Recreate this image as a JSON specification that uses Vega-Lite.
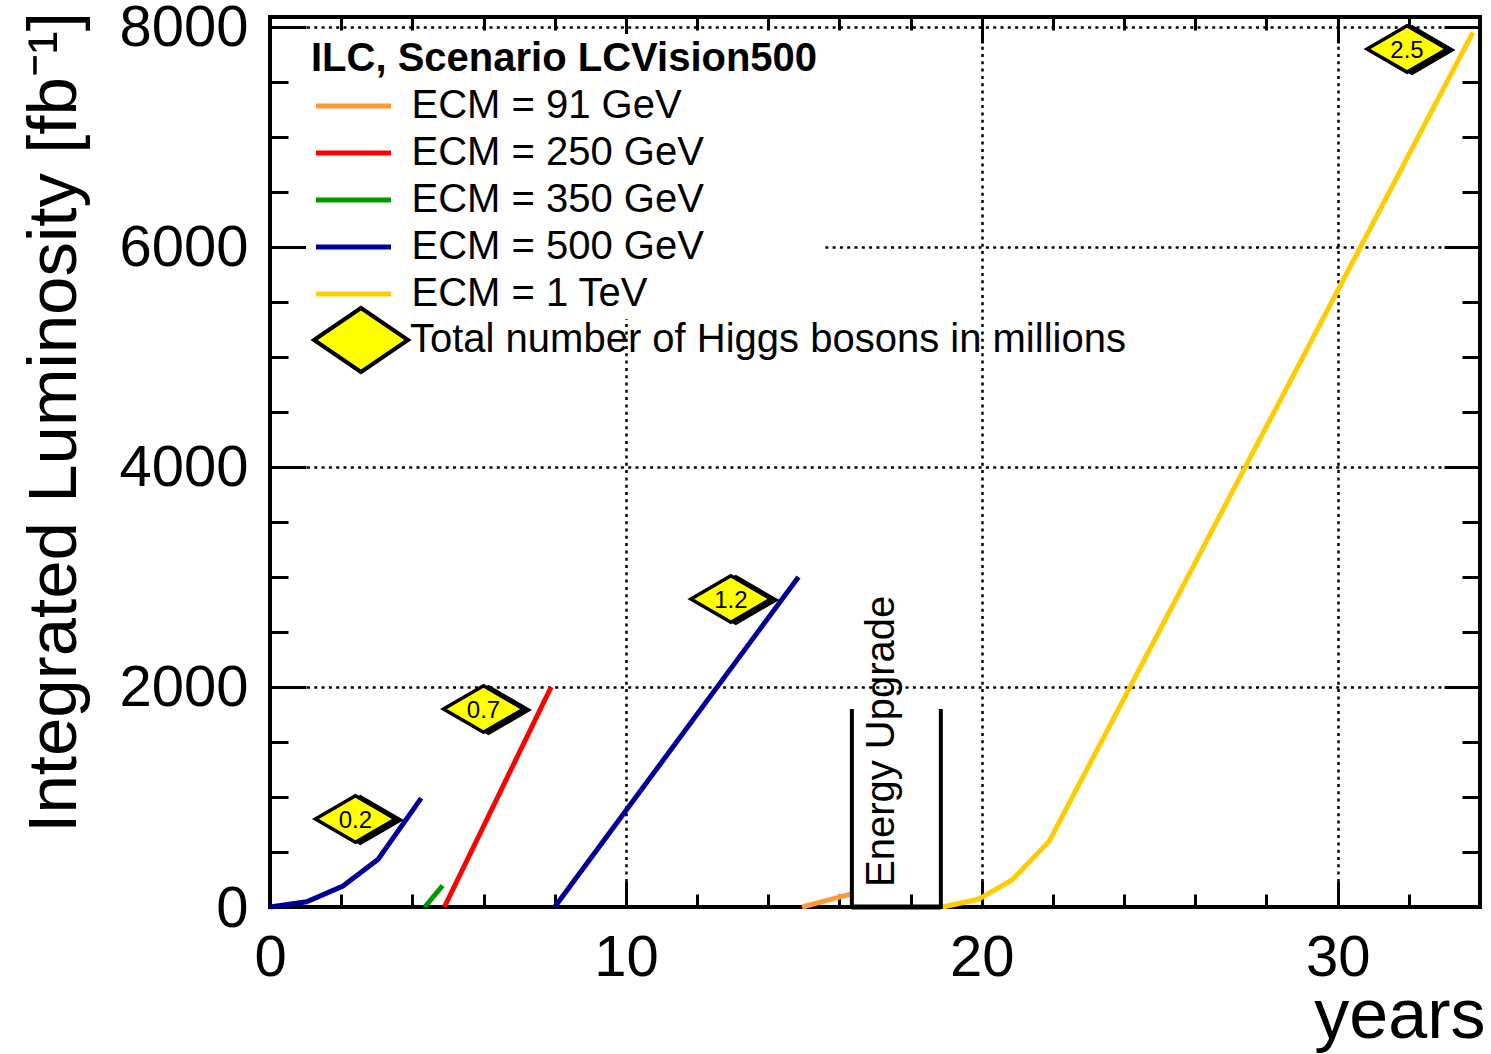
{
  "$schema": "https://vega.github.io/schema/vega-lite/v6.json",
  "width": 1210,
  "height": 890,
  "autosize": {"type": "none"},
  "padding": {"left": 270, "top": 17, "right": 11, "bottom": 147},
  "background": "white",
  "config": {
    "font": "Liberation Sans, Arial, Helvetica, sans-serif",
    "view": {"stroke": "black", "strokeWidth": 4},
    "axis": {
      "domain": false,
      "tickColor": "black",
      "tickWidth": 3,
      "labelColor": "black",
      "titleColor": "black",
      "titleFontWeight": "normal",
      "gridColor": "black",
      "gridDash": [3, 4.3],
      "gridWidth": 2.5,
      "gridOpacity": 1,
      "labelFlush": false,
      "labelOverlap": false,
      "labelBound": false
    },
    "legend": {"labelColor": "black", "labelFontSize": 40, "labelLimit": 0, "titleLimit": 0}
  },
  "datasets": {
    "runs": [
      {"series": "ECM = 500 GeV", "run": "500a", "year": 0, "lumi": 0},
      {"series": "ECM = 500 GeV", "run": "500a", "year": 1.03, "lumi": 48},
      {"series": "ECM = 500 GeV", "run": "500a", "year": 2.05, "lumi": 190},
      {"series": "ECM = 500 GeV", "run": "500a", "year": 3.04, "lumi": 435},
      {"series": "ECM = 500 GeV", "run": "500a", "year": 4.25, "lumi": 990},
      {"series": "ECM = 350 GeV", "run": "350", "year": 4.35, "lumi": 0},
      {"series": "ECM = 350 GeV", "run": "350", "year": 4.85, "lumi": 195},
      {"series": "ECM = 250 GeV", "run": "250", "year": 4.9, "lumi": 0},
      {"series": "ECM = 250 GeV", "run": "250", "year": 7.9, "lumi": 2000},
      {"series": "ECM = 500 GeV", "run": "500b", "year": 8.0, "lumi": 0},
      {"series": "ECM = 500 GeV", "run": "500b", "year": 14.85, "lumi": 3000},
      {"series": "ECM = 91 GeV", "run": "91", "year": 14.95, "lumi": 0},
      {"series": "ECM = 91 GeV", "run": "91", "year": 15.95, "lumi": 85},
      {"series": "ECM = 91 GeV", "run": "91", "year": 16.35, "lumi": 120},
      {"series": "ECM = 1 TeV", "run": "1000", "year": 18.9, "lumi": 0},
      {"series": "ECM = 1 TeV", "run": "1000", "year": 19.9, "lumi": 70},
      {"series": "ECM = 1 TeV", "run": "1000", "year": 20.85, "lumi": 245},
      {"series": "ECM = 1 TeV", "run": "1000", "year": 21.9, "lumi": 600},
      {"series": "ECM = 1 TeV", "run": "1000", "year": 33.8, "lumi": 7950}
    ],
    "higgs": [
      {"year": 2.4, "lumi": 800, "higgs": "0.2"},
      {"year": 6.0, "lumi": 1800, "higgs": "0.7"},
      {"year": 12.95, "lumi": 2800, "higgs": "1.2"},
      {"year": 31.95, "lumi": 7800, "higgs": "2.5"}
    ],
    "upgrade": [
      {"start": 16.35, "end": 18.85, "top": 1800, "label": "Energy Upgrade"}
    ]
  },
  "resolve": {"axis": {"x": "independent", "y": "independent"}},
  "layer": [
    {
      "data": {"name": "runs"},
      "mark": {"type": "line", "strokeWidth": 5, "strokeCap": "butt"},
      "encoding": {
        "x": {
          "field": "year", "type": "quantitative",
          "scale": {"domain": [0, 34], "nice": false, "zero": false},
          "axis": {
            "orient": "bottom", "values": [0, 10, 20, 30], "format": "d",
            "title": "years", "titleFontSize": 70, "titleX": 1215, "titleY": 130,
            "titleAlign": "right", "titleBaseline": "alphabetic", "titleAnchor": "end",
            "labelFontSize": 58, "labelPadding": 48, "tickSize": -26, "grid": true
          }
        },
        "y": {
          "field": "lumi", "type": "quantitative",
          "scale": {"domain": [0, 8090], "nice": false, "zero": false},
          "axis": {
            "orient": "left", "values": [0, 2000, 4000, 6000, 8000], "format": "d",
            "title": "Integrated Luminosity  [fb⁻¹]", "titleFontSize": 69, "titleAngle": 270,
            "titleX": -195, "titleY": -5.5, "titleAlign": "right", "titleBaseline": "alphabetic",
            "labelFontSize": 58, "labelPadding": 58, "labelOffset": 2, "tickSize": -36, "grid": true
          }
        },
        "stroke": {
          "field": "series", "type": "nominal",
          "scale": {
            "domain": ["ECM = 91 GeV", "ECM = 250 GeV", "ECM = 350 GeV", "ECM = 500 GeV", "ECM = 1 TeV"],
            "range": ["#ff9933", "#ff0000", "#009900", "#000099", "#ffcc00"]
          },
          "legend": {
            "orient": "none", "legendX": 36, "legendY": 17,
            "title": "ILC, Scenario LCVision500", "titleFontSize": 40, "titleFontWeight": "bold",
            "titleColor": "black", "titlePadding": 7, "padding": 5, "fillColor": "white",
            "symbolType": "M -3.75 0 L 3.75 0", "symbolSize": 400, "symbolStrokeWidth": 5,
            "symbolOffset": 22.5, "labelOffset": 38, "rowPadding": 7, "labelFontSize": 40
          }
        },
        "detail": {"field": "run"}
      }
    },
    {
      "data": {"name": "upgrade"},
      "mark": {"type": "rule", "strokeWidth": 4, "color": "black"},
      "encoding": {
        "x": {
          "field": "start", "type": "quantitative",
          "scale": {"domain": [0, 34], "nice": false, "zero": false},
          "axis": {
            "orient": "bottom", "values": [2, 4, 6, 8, 12, 14, 16, 18, 22, 24, 26, 28, 32],
            "labels": false, "grid": false, "tickSize": -13, "title": null
          }
        },
        "y": {
          "field": "top", "type": "quantitative",
          "scale": {"domain": [0, 8090], "nice": false, "zero": false},
          "axis": {
            "orient": "left", "values": [500, 1000, 1500, 2500, 3000, 3500, 4500, 5000, 5500, 6500, 7000, 7500],
            "labels": false, "grid": false, "tickSize": -18, "title": null
          }
        },
        "y2": {"datum": 0}
      }
    },
    {
      "data": {"name": "upgrade"},
      "mark": {"type": "rule", "strokeWidth": 4, "color": "black"},
      "encoding": {
        "x": {
          "field": "end", "type": "quantitative",
          "scale": {"domain": [0, 34], "nice": false, "zero": false},
          "axis": {"orient": "top", "values": [10, 20, 30], "labels": false, "grid": false, "tickSize": -26, "title": null}
        },
        "y": {
          "field": "top", "type": "quantitative",
          "scale": {"domain": [0, 8090], "nice": false, "zero": false},
          "axis": {"orient": "right", "values": [2000, 4000, 6000, 8000], "labels": false, "grid": false, "tickSize": -36, "title": null}
        },
        "y2": {"datum": 0}
      }
    },
    {
      "data": {"name": "upgrade"},
      "mark": {"type": "rule", "strokeWidth": 5, "color": "black"},
      "encoding": {
        "x": {
          "field": "start", "type": "quantitative",
          "scale": {"domain": [0, 34], "nice": false, "zero": false},
          "axis": {
            "orient": "top", "values": [2, 4, 6, 8, 12, 14, 16, 18, 22, 24, 26, 28, 32],
            "labels": false, "grid": false, "tickSize": -13, "title": null
          }
        },
        "x2": {"field": "end"},
        "y": {"datum": 0, "type": "quantitative", "scale": {"domain": [0, 8090], "nice": false, "zero": false}, "axis": null}
      }
    },
    {
      "data": {"name": "upgrade"},
      "mark": {"type": "text", "angle": 270, "align": "left", "baseline": "middle", "fontSize": 40, "color": "black", "xOffset": 30, "yOffset": -20},
      "encoding": {
        "x": {"field": "start", "type": "quantitative", "scale": {"domain": [0, 34], "nice": false, "zero": false}, "axis": null},
        "y": {"datum": 0, "type": "quantitative", "scale": {"domain": [0, 8090], "nice": false, "zero": false}, "axis": null},
        "text": {"field": "label"}
      }
    },
    {
      "data": {"name": "higgs"},
      "mark": {"type": "point", "shape": "M -1 0 L 0 -0.58 L 1 0 L 0 0.58 Z", "size": 6400, "filled": true, "fill": "black", "stroke": "black", "strokeWidth": 3.5, "opacity": 1, "xOffset": 5, "yOffset": 1},
      "encoding": {
        "x": {"field": "year", "type": "quantitative", "scale": {"domain": [0, 34], "nice": false, "zero": false}, "axis": null},
        "y": {
          "field": "lumi", "type": "quantitative",
          "scale": {"domain": [0, 8090], "nice": false, "zero": false},
          "axis": {
            "orient": "right", "values": [500, 1000, 1500, 2500, 3000, 3500, 4500, 5000, 5500, 6500, 7000, 7500],
            "labels": false, "grid": false, "tickSize": -18, "title": null
          }
        }
      }
    },
    {
      "data": {"name": "higgs"},
      "mark": {"type": "point", "shape": "M -1 0 L 0 -0.58 L 1 0 L 0 0.58 Z", "size": 6400, "filled": true, "stroke": "black", "strokeWidth": 3.5, "opacity": 1},
      "encoding": {
        "x": {"field": "year", "type": "quantitative", "scale": {"domain": [0, 34], "nice": false, "zero": false}, "axis": null},
        "y": {"field": "lumi", "type": "quantitative", "scale": {"domain": [0, 8090], "nice": false, "zero": false}, "axis": null},
        "fill": {
          "datum": "Total number of Higgs bosons in millions", "type": "nominal",
          "scale": {"range": ["#ffff00"]},
          "legend": {
            "orient": "none", "legendX": 43, "legendY": 303, "title": null, "padding": 0,
            "symbolType": "M -4.7 0 L 0 -3.2 L 4.7 0 L 0 3.2 Z", "symbolSize": 400,
            "symbolStrokeColor": "black", "symbolStrokeWidth": 4, "symbolOffset": 28,
            "labelOffset": 29, "labelFontSize": 40,
            "encode": {"symbols": {"update": {"stroke": {"value": "black"}, "strokeWidth": {"value": 4}, "fill": {"value": "#ffff00"}, "opacity": {"value": 1}}}}
          }
        }
      }
    },
    {
      "data": {"name": "higgs"},
      "mark": {"type": "text", "fontSize": 24, "align": "center", "baseline": "middle", "color": "black", "yOffset": 2},
      "encoding": {
        "x": {"field": "year", "type": "quantitative", "scale": {"domain": [0, 34], "nice": false, "zero": false}, "axis": null},
        "y": {"field": "lumi", "type": "quantitative", "scale": {"domain": [0, 8090], "nice": false, "zero": false}, "axis": null},
        "text": {"field": "higgs"}
      }
    }
  ]
}
